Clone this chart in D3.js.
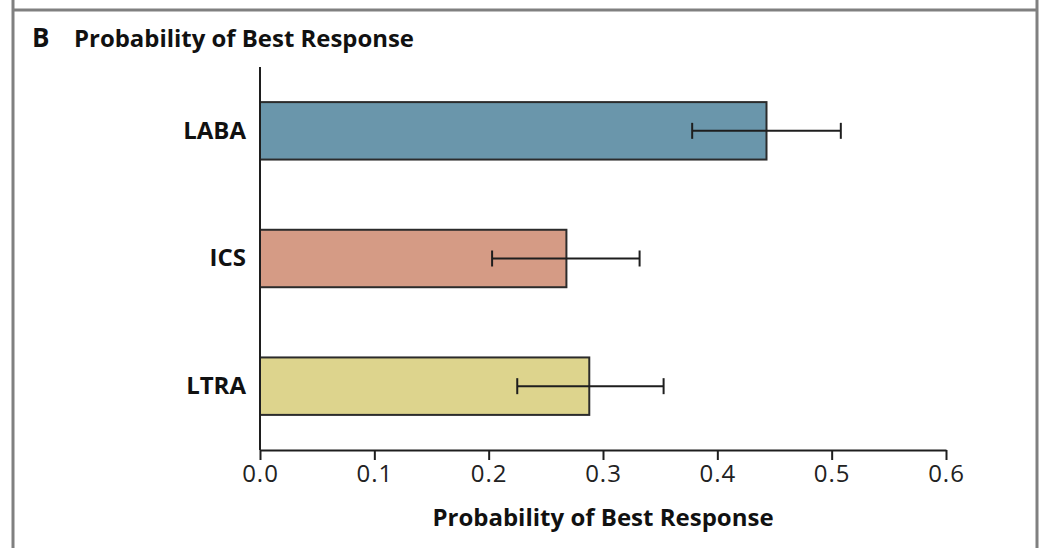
<!DOCTYPE html>
<html lang="en">
<head>
  <meta charset="UTF-8">
  <script src="https://d3js.org/d3.v7.min.js"></script>
  <title>Probability of Best Response</title>
  <style>
    body { margin: 0; padding: 0; background: #fff; }
    svg { display: block; font-family: "Open Sans", "Noto Sans", sans-serif; }
  </style>
</head>
<body>
  <div id="chart"></div>
  <script>
    // data
    const treatments = ["LABA", "ICS", "LTRA"];
    const probBest = [0.443, 0.268, 0.288];
    const ciLow = [0.378, 0.203, 0.225];
    const ciHigh = [0.508, 0.332, 0.353];
    const barColors = ["#6a96ab", "#d59b85", "#ddd48d"];
    const xTicks = [0, 0.1, 0.2, 0.3, 0.4, 0.5, 0.6];

    const width = 1040, height = 548;
    const svg = d3.select("#chart").append("svg")
      .attr("width", width)
      .attr("height", height);

    // panel frame
    svg.append("line").attr("x1", 13).attr("x2", 1037).attr("y1", 10).attr("y2", 10)
      .attr("stroke", "#808080").attr("stroke-width", 3);
    svg.append("line").attr("x1", 13).attr("x2", 13).attr("y1", 0).attr("y2", height)
      .attr("stroke", "#808080").attr("stroke-width", 3);
    svg.append("line").attr("x1", 1037).attr("x2", 1037).attr("y1", 0).attr("y2", height)
      .attr("stroke", "#808080").attr("stroke-width", 3);

    // title
    svg.append("text").attr("x", 32).attr("y", 47)
      .attr("font-weight", "bold").attr("font-size", 26).attr("fill", "#111")
      .text("B");
    svg.append("text").attr("x", 74).attr("y", 47)
      .attr("font-weight", "bold").attr("font-size", 24).attr("fill", "#111")
      .attr("textLength", 340).attr("lengthAdjust", "spacingAndGlyphs")
      .text("Probability of Best Response");

    const x = d3.scaleLinear().domain([0, 0.6]).range([260, 946]);
    const y = d3.scaleBand().domain(treatments).range([67, 450])
      .paddingInner(0.55).paddingOuter(0.275);

    const rows = treatments.map((t, i) => ({
      name: t, p: probBest[i], lo: ciLow[i], hi: ciHigh[i], color: barColors[i]
    }));

    const g = svg.append("g");

    g.selectAll("rect.bar").data(rows).enter().append("rect")
      .attr("class", "bar")
      .attr("x", x(0))
      .attr("y", d => y(d.name))
      .attr("width", d => x(d.p) - x(0))
      .attr("height", y.bandwidth())
      .attr("fill", d => d.color)
      .attr("stroke", "#2b2b2b")
      .attr("stroke-width", 2);

    // error bars
    const mid = d => y(d.name) + y.bandwidth() / 2;
    const eb = g.selectAll("g.err").data(rows).enter().append("g")
      .attr("class", "err")
      .attr("stroke", "#1e1e1e")
      .attr("stroke-width", 2);
    eb.append("line")
      .attr("x1", d => x(d.lo)).attr("x2", d => x(d.hi))
      .attr("y1", mid).attr("y2", mid);
    eb.append("line")
      .attr("x1", d => x(d.lo)).attr("x2", d => x(d.lo))
      .attr("y1", d => mid(d) - 8).attr("y2", d => mid(d) + 8);
    eb.append("line")
      .attr("x1", d => x(d.hi)).attr("x2", d => x(d.hi))
      .attr("y1", d => mid(d) - 8).attr("y2", d => mid(d) + 8);

    // y axis (no ticks)
    const yAxis = svg.append("g")
      .attr("transform", `translate(${x(0)},0)`)
      .call(d3.axisLeft(y).tickSize(0).tickPadding(14));
    yAxis.select(".domain").attr("stroke", "#1e1e1e").attr("stroke-width", 2)
      .attr("d", "M0,67V450");
    yAxis.selectAll("text")
      .attr("font-size", 24).attr("font-weight", "bold").attr("fill", "#111")
      .attr("font-family", "'Open Sans', sans-serif");

    // x axis
    const xAxis = svg.append("g")
      .attr("transform", "translate(0,450)")
      .call(d3.axisBottom(x).tickValues(xTicks).tickFormat(d3.format(".1f"))
        .tickSize(10).tickSizeOuter(0).tickPadding(5));
    xAxis.select(".domain").attr("stroke", "#1e1e1e").attr("stroke-width", 2);
    xAxis.selectAll(".tick line").attr("stroke", "#1e1e1e").attr("stroke-width", 2);
    xAxis.selectAll("text")
      .attr("font-size", 24).attr("fill", "#222")
      .attr("letter-spacing", 1)
      .attr("font-family", "'Open Sans', sans-serif");

    svg.append("text")
      .attr("x", (x(0) + x(0.6)) / 2)
      .attr("y", 526)
      .attr("text-anchor", "middle")
      .attr("font-weight", "bold").attr("font-size", 24).attr("fill", "#111")
      .text("Probability of Best Response");
  </script>
</body>
</html>
